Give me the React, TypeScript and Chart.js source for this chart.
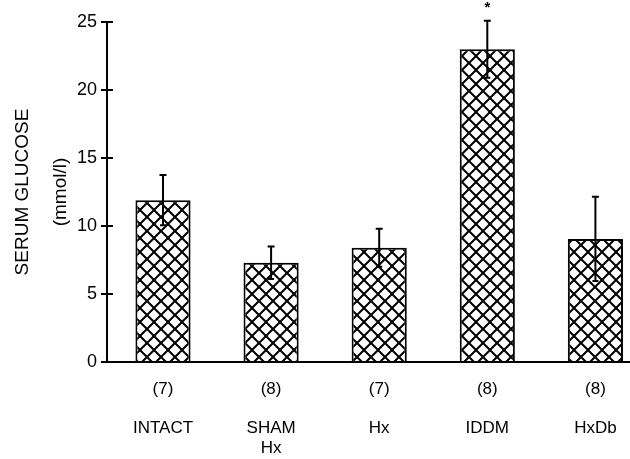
import React, { useEffect, useRef } from "react";
import { Chart, registerables } from "chart.js";

Chart.register(...registerables);

// ---- data ----
const groups: string[][] = [["INTACT"], ["SHAM", "Hx"], ["Hx"], ["IDDM"], ["HxDb"]];
const counts: string[] = ["(7)", "(8)", "(7)", "(8)", "(8)"];
const means: number[] = [11.9, 7.3, 8.4, 23.0, 9.05];
const sems: number[] = [1.85, 1.2, 1.4, 2.1, 3.1];
const marks: string[] = ["", "", "", "*", ""];
const yTicks: number[] = [0, 5, 10, 15, 20, 25];
const yTitle: string[] = ["SERUM GLUCOSE", "(mmol/l)"];

const FAMILY = "'Liberation Sans', Arial, Helvetica, sans-serif";

function makeHatch(): CanvasPattern | string {
  const s = 14;
  const c = document.createElement("canvas");
  c.width = s;
  c.height = s;
  const g = c.getContext("2d");
  if (!g) return "#fff";
  g.fillStyle = "#fff";
  g.fillRect(0, 0, s, s);
  g.strokeStyle = "#000";
  g.lineWidth = 2;
  for (const dx of [-s, 0, s]) {
    g.beginPath();
    g.moveTo(dx, 0);
    g.lineTo(dx + s, s);
    g.stroke();
    g.beginPath();
    g.moveTo(dx + s, 0);
    g.lineTo(dx, s);
    g.stroke();
  }
  return g.createPattern(c, "repeat") || "#fff";
}

const errorBars = {
  id: "errorBars",
  afterDatasetsDraw(chart: any) {
    const { ctx, scales } = chart;
    const x = scales.x;
    const y = scales.y;
    ctx.save();
    ctx.strokeStyle = "#000";
    ctx.fillStyle = "#000";
    ctx.lineWidth = 2;
    means.forEach((m, i) => {
      const px = x.getPixelForValue(i);
      const top = y.getPixelForValue(m + sems[i]);
      const bot = y.getPixelForValue(m - sems[i]);
      ctx.beginPath();
      ctx.moveTo(px, top);
      ctx.lineTo(px, bot);
      ctx.moveTo(px - 3.5, top);
      ctx.lineTo(px + 3.5, top);
      ctx.moveTo(px - 3, bot);
      ctx.lineTo(px + 3, bot);
      ctx.stroke();
      if (marks[i]) {
        ctx.font = `bold 15px ${FAMILY}`;
        ctx.textAlign = "center";
        ctx.textBaseline = "middle";
        ctx.fillText(marks[i], px, top - 13);
      }
    });
    // inner half of the y tick marks (ticks cross the axis)
    const left = chart.chartArea.left;
    ctx.beginPath();
    yTicks.forEach((v) => {
      const py = y.getPixelForValue(v);
      ctx.moveTo(left, py);
      ctx.lineTo(left + 6, py);
    });
    ctx.stroke();
    ctx.restore();
  },
};

export default function App() {
  const ref = useRef<HTMLCanvasElement | null>(null);

  useEffect(() => {
    document.body.style.margin = "0";
    const canvas = ref.current;
    if (!canvas) return;
    const hatch = makeHatch();
    const chart = new Chart(canvas, {
      type: "bar",
      data: {
        datasets: [
          {
            data: means.map((m, i) => ({ x: i, y: m })),
            backgroundColor: hatch as any,
            borderColor: "#000",
            borderWidth: 2,
            barPercentage: 0.51,
            categoryPercentage: 1,
          },
        ],
      },
      options: {
        animation: false,
        responsive: true,
        maintainAspectRatio: false,
        layout: { padding: { top: 22, right: 0, bottom: 0, left: 0 } },
        plugins: {
          legend: { display: false },
          tooltip: { enabled: false },
        },
        scales: {
          x: {
            type: "linear",
            offset: false,
            min: -0.518,
            max: 4.32,
            grid: { display: false, drawTicks: false, offset: false },
            border: { display: true, color: "#000", width: 2 },
            afterBuildTicks: (scale: any) => {
              scale.ticks = counts.map((_, i) => ({ value: i }));
            },
            afterFit: (scale: any) => {
              scale.height = 97;
              scale.paddingLeft = 0;
              scale.paddingRight = 0;
            },
            ticks: {
              autoSkip: false,
              maxRotation: 0,
              minRotation: 0,
              padding: 18,
              color: "#000",
              font: { size: 17, family: FAMILY, lineHeight: 19.5 / 17 },
              callback: (v: any) => {
                const i = Math.round(Number(v));
                return [counts[i], "", ...groups[i]];
              },
            },
          },
          y: {
            min: 0,
            max: 25,
            afterBuildTicks: (scale: any) => {
              scale.ticks = yTicks.map((v) => ({ value: v }));
            },
            afterFit: (scale: any) => {
              scale.width = 107;
            },
            grid: {
              display: true,
              drawOnChartArea: false,
              drawTicks: true,
              tickLength: 6,
              color: "#000",
              lineWidth: 2,
            },
            border: { display: true, color: "#000", width: 2 },
            ticks: {
              padding: 4,
              color: "#000",
              font: { size: 18, family: FAMILY },
            },
            title: {
              display: true,
              text: yTitle,
              color: "#000",
              font: { size: 19, family: FAMILY, lineHeight: 38 / 19 },
              padding: { top: 4, bottom: 0 },
            },
          },
        },
      },
      plugins: [errorBars],
    });
    return () => chart.destroy();
  }, []);

  return (
    <div style={{ position: "relative", width: 630, height: 459 }}>
      <canvas ref={ref} />
    </div>
  );
}
